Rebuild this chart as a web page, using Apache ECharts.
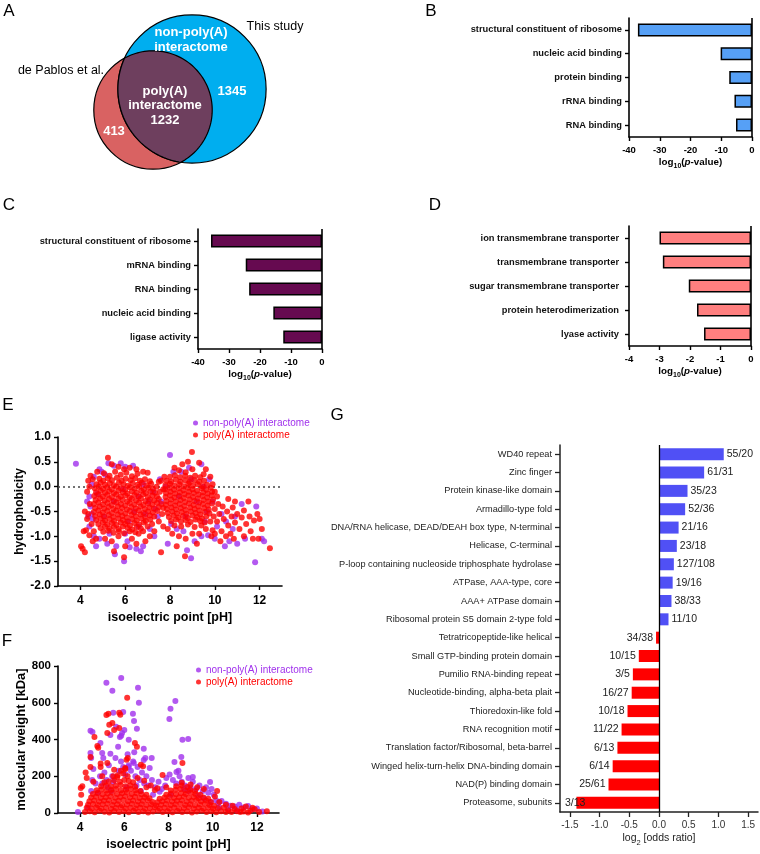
<!DOCTYPE html>
<html><head><meta charset="utf-8">
<script src="https://cdn.jsdelivr.net/npm/echarts@6/dist/echarts.min.js"></script>
<style>html,body{margin:0;padding:0;background:#fff}#c{width:760px;height:854px}</style>
</head><body><div id="c"></div>
<script>
// ---------- DATA ----------
// Panel A: Venn counts
const vennOnlyDePablos = 413;
const vennShared = 1232;
const vennOnlyThisStudy = 1345;

// Panel B: GO terms, non-poly(A) interactome
const goB_terms = ['structural constituent of ribosome','nucleic acid binding','protein binding','rRNA binding','RNA binding'];
const goB_vals = [-37.1,-10.2,-7.4,-5.7,-5.2];
// Panel C: GO terms, poly(A) interactome
const goC_terms = ['structural constituent of ribosome','mRNA binding','RNA binding','nucleic acid binding','ligase activity'];
const goC_vals = [-35.8,-24.6,-23.5,-15.7,-12.5];
// Panel D: GO terms, de Pablos only
const goD_terms = ['ion transmembrane transporter','transmembrane transporter','sugar transmembrane transporter','protein heterodimerization','lyase activity'];
const goD_vals = [-3.0,-2.89,-2.04,-1.77,-1.54];

// Panel G: InterPro domains
const pfamTerms = ['WD40 repeat','Zinc finger','Protein kinase-like domain','Armadillo-type fold','DNA/RNA helicase, DEAD/DEAH box type, N-terminal','Helicase, C-terminal','P-loop containing nucleoside triphosphate hydrolase','ATPase, AAA-type, core','AAA+ ATPase domain','Ribosomal protein S5 domain 2-type fold','Tetratricopeptide-like helical','Small GTP-binding protein domain','Pumilio RNA-binding repeat','Nucleotide-binding, alpha-beta plait','Thioredoxin-like fold','RNA recognition motif','Translation factor/Ribosomal, beta-barrel','Winged helix-turn-helix DNA-binding domain','NAD(P) binding domain','Proteasome, subunits'];
const pfamLog2OR = [1.09,0.76,0.48,0.44,0.33,0.30,0.25,0.23,0.21,0.16,-0.05,-0.34,-0.44,-0.46,-0.53,-0.63,-0.70,-0.78,-0.85,-1.39];
const pfamCounts = ['55/20','61/31','35/23','52/36','21/16','23/18','127/108','19/16','38/33','11/10','34/38','10/15','3/5','16/27','10/18','11/22','6/13','6/14','25/61','3/13'];

// Panel E: isoelectric point vs hydrophobicity
const E_nonPolyA = [[3.8,0.46],[8.0,0.64],[11.8,-1.52],[8.94,-1.44],[5.95,-1.5],[5.54,-1.36],[6.2,-1.22],[8.76,-1.28],[6.35,0.42],[5.8,0.47],[5.5,0.42],[5.25,0.47],[4.95,0.3],[5.1,0.24],[4.6,0.2],[4.5,0.05],[4.4,-0.2],[4.45,-0.4],[4.5,-0.55],[4.4,-0.8],[4.6,-1.0],[4.85,-1.05],[4.7,-1.2],[5.2,-1.15],[5.6,-1.2],[6.1,-1.1],[6.5,-1.25],[6.7,-1.3],[6.0,-0.95],[5.3,-0.95],[6.6,-0.8],[6.4,-0.5],[5.5,-0.3],[6.6,-0.2],[7.05,-0.3],[7.35,-0.45],[7.45,-0.6],[7.25,-0.1],[7.6,-0.3],[7.8,0.0],[8.15,0.3],[8.5,0.3],[8.4,-0.2],[8.7,-0.6],[9.2,-0.3],[9.5,0.0],[9.75,0.15],[9.9,-0.3],[10.1,-0.8],[10.3,-0.55],[10.5,-0.7],[10.65,-1.1],[11.0,-1.15],[11.35,-1.05],[11.85,-0.4],[12.1,-1.05],[12.2,-1.1],[10.45,-1.2],[9.7,-0.98],[9.4,-1.0],[8.6,-0.9],[8.3,-0.85],[7.9,-1.15],[9.4,0.45],[5.9,-0.05],[6.15,-0.7],[5.05,-0.6],[4.75,-0.15],[4.55,-0.65],[6.8,0.05],[6.9,-0.55],[8.95,0.15],[9.65,-0.5],[10.8,-0.85],[11.2,-0.35],[7.1,-0.85],[9.1,-1.1],[8.85,0.38],[4.3,-0.3],[4.35,-0.6],[6.8,-1.2],[7.3,-1.0],[8.05,-0.75],[9.55,-0.7],[10.0,-1.05],[10.9,-0.6],[7.55,0.15],[6.0,0.4],[4.85,0.35]];
const E_polyA = [
[5.05,0.27],[5.3,0.22],[5.55,0.3],[5.8,0.24],[6.05,0.28],[6.3,0.21],[6.55,0.26],
[4.85,0.16],[5.02,0.12],[5.22,0.17],[5.41,0.13],[5.63,0.18],[5.84,0.12],[6.02,0.16],[6.24,0.13],[6.45,0.17],[6.66,0.12],[6.88,0.15],[7.1,0.11],
[4.72,0.05],[4.9,0.08],[5.1,0.04],[5.31,0.07],[5.5,0.03],[5.72,0.08],[5.93,0.05],[6.12,0.02],[6.33,0.07],[6.55,0.04],[6.74,0.08],[6.95,0.03],[7.16,0.06],
[4.64,-0.03],[4.82,0.0],[5.01,-0.04],[5.2,-0.01],[5.4,-0.05],[5.6,0.0],[5.81,-0.03],[6.0,-0.06],[6.21,-0.01],[6.42,-0.04],[6.62,0.0],[6.83,-0.05],[7.04,-0.02],[7.24,-0.04],
[4.7,-0.11],[4.9,-0.08],[5.1,-0.12],[5.29,-0.09],[5.5,-0.13],[5.7,-0.08],[5.9,-0.11],[6.1,-0.14],[6.3,-0.09],[6.51,-0.12],[6.72,-0.08],[6.92,-0.13],[7.13,-0.1],[7.33,-0.12],
[4.62,-0.19],[4.81,-0.16],[5.0,-0.2],[5.2,-0.17],[5.41,-0.21],[5.6,-0.16],[5.8,-0.2],[6.01,-0.18],[6.2,-0.22],[6.41,-0.17],[6.6,-0.2],[6.8,-0.16],[7.01,-0.21],[7.22,-0.18],[7.42,-0.2],
[4.68,-0.27],[4.88,-0.24],[5.08,-0.28],[5.28,-0.25],[5.48,-0.29],[5.69,-0.24],[5.88,-0.27],[6.09,-0.3],[6.29,-0.25],[6.49,-0.28],[6.7,-0.24],[6.9,-0.29],[7.1,-0.26],[7.3,-0.28],[7.5,-0.25],
[4.6,-0.35],[4.8,-0.32],[5.01,-0.36],[5.21,-0.33],[5.4,-0.37],[5.61,-0.32],[5.81,-0.35],[6.0,-0.38],[6.2,-0.33],[6.41,-0.36],[6.62,-0.32],[6.81,-0.37],[7.02,-0.34],[7.21,-0.36],[7.42,-0.33],[7.62,-0.35],
[4.66,-0.43],[4.86,-0.4],[5.06,-0.44],[5.26,-0.41],[5.47,-0.45],[5.67,-0.4],[5.86,-0.43],[6.07,-0.46],[6.27,-0.41],[6.47,-0.44],[6.68,-0.4],[6.88,-0.45],[7.08,-0.42],[7.28,-0.44],[7.5,-0.41],[7.7,-0.43],
[4.6,-0.51],[4.8,-0.48],[5.0,-0.52],[5.2,-0.49],[5.41,-0.53],[5.6,-0.48],[5.8,-0.51],[6.01,-0.54],[6.21,-0.49],[6.41,-0.52],[6.61,-0.48],[6.82,-0.53],[7.02,-0.5],[7.23,-0.52],[7.44,-0.49],
[4.66,-0.59],[4.86,-0.56],[5.06,-0.6],[5.27,-0.57],[5.47,-0.61],[5.67,-0.56],[5.87,-0.59],[6.07,-0.62],[6.28,-0.57],[6.48,-0.6],[6.68,-0.56],[6.89,-0.61],[7.1,-0.58],[7.3,-0.6],
[4.7,-0.67],[4.9,-0.64],[5.1,-0.68],[5.3,-0.65],[5.5,-0.69],[5.7,-0.64],[5.9,-0.67],[6.1,-0.7],[6.31,-0.65],[6.51,-0.68],[6.72,-0.64],[6.92,-0.69],[7.12,-0.66],
[4.8,-0.75],[5.0,-0.72],[5.2,-0.76],[5.41,-0.73],[5.61,-0.77],[5.8,-0.72],[6.0,-0.75],[6.21,-0.78],[6.41,-0.73],[6.62,-0.76],[6.83,-0.72],
[4.9,-0.83],[5.1,-0.8],[5.3,-0.84],[5.5,-0.81],[5.71,-0.85],[5.9,-0.8],[6.11,-0.83],[6.31,-0.86],[6.52,-0.81],[6.7,-0.84],
[5.02,-0.91],[5.25,-0.89],[5.48,-0.93],[5.72,-0.9],[5.95,-0.94],[6.2,-0.9],[6.45,-0.92],
[8.4,0.33],[8.7,0.29],[9.0,0.35],[8.2,0.38],
[8.0,0.2],[8.22,0.23],[8.45,0.19],[8.68,0.22],[8.9,0.18],[9.12,0.22],[9.35,0.19],
[7.85,0.12],[8.05,0.1],[8.26,0.14],[8.47,0.1],[8.68,0.13],[8.88,0.09],[9.1,0.13],[9.31,0.1],[9.52,0.12],
[7.8,0.03],[8.0,0.06],[8.2,0.02],[8.41,0.05],[8.62,0.01],[8.82,0.06],[9.03,0.02],[9.24,0.05],[9.45,0.01],[9.65,0.04],
[7.78,-0.05],[7.98,-0.02],[8.18,-0.06],[8.39,-0.03],[8.6,-0.07],[8.8,-0.02],[9.0,-0.05],[9.21,-0.08],[9.42,-0.03],[9.62,-0.06],[9.82,-0.02],
[7.82,-0.13],[8.02,-0.1],[8.23,-0.14],[8.44,-0.11],[8.65,-0.15],[8.85,-0.1],[9.06,-0.13],[9.27,-0.16],[9.48,-0.11],[9.68,-0.14],[9.88,-0.1],
[7.8,-0.21],[8.0,-0.18],[8.2,-0.22],[8.41,-0.19],[8.62,-0.23],[8.82,-0.18],[9.03,-0.21],[9.24,-0.24],[9.45,-0.19],[9.66,-0.22],[9.86,-0.18],
[7.84,-0.29],[8.05,-0.26],[8.26,-0.3],[8.47,-0.27],[8.67,-0.31],[8.88,-0.26],[9.09,-0.29],[9.3,-0.32],[9.5,-0.27],[9.71,-0.3],[9.92,-0.26],
[7.82,-0.37],[8.02,-0.34],[8.23,-0.38],[8.43,-0.35],[8.64,-0.39],[8.85,-0.34],[9.05,-0.37],[9.26,-0.4],[9.47,-0.35],[9.68,-0.38],[9.88,-0.34],
[7.86,-0.45],[8.06,-0.42],[8.27,-0.46],[8.48,-0.43],[8.69,-0.47],[8.9,-0.42],[9.1,-0.45],[9.31,-0.48],[9.52,-0.43],[9.73,-0.46],
[7.9,-0.53],[8.1,-0.5],[8.31,-0.54],[8.52,-0.51],[8.73,-0.55],[8.93,-0.5],[9.14,-0.53],[9.35,-0.56],[9.56,-0.51],[9.76,-0.54],
[7.95,-0.61],[8.16,-0.58],[8.37,-0.62],[8.58,-0.59],[8.79,-0.63],[9.0,-0.58],[9.21,-0.61],[9.42,-0.64],[9.62,-0.6],
[8.05,-0.69],[8.27,-0.66],[8.49,-0.7],[8.7,-0.67],[8.92,-0.71],[9.14,-0.66],[9.35,-0.69],[9.55,-0.72],
[8.2,-0.78],[8.5,-0.8],[8.8,-0.76],[9.1,-0.81],[9.4,-0.78],
[10.0,-0.45],[10.2,-0.55],[10.1,-0.7],[10.35,-0.4],[10.4,-0.65],[10.55,-0.5],[10.6,-0.78],[10.75,-0.6],[10.8,-0.42],[10.9,-0.72],[11.0,-0.55],[11.1,-0.85],[11.2,-0.62],[11.3,-0.48],[11.4,-0.75],[11.55,-0.6],[11.6,-0.9],[11.75,-0.68],[11.9,-0.55],[10.3,-0.9],[10.5,-1.0],[10.7,-0.95],[10.25,-1.1],[10.0,-0.95],[9.9,-0.88],[10.85,-1.05],[11.3,-1.0],[11.7,-1.05],[11.5,-0.3],[10.6,-0.25],[10.1,-0.2],[12.1,-0.85],[12.0,-0.65],[11.95,-1.05],[12.46,-1.24],[10.9,-0.3],[9.95,-0.6],[10.15,-0.35],
[5.23,0.58],[5.4,0.45],[5.7,0.4],[5.95,0.35],[6.2,0.38],[4.75,0.3],[4.55,0.15],[4.4,0.0],[4.3,-0.1],[4.42,-0.35],[4.35,-0.55],[4.3,-0.65],[4.25,-0.88],[4.4,-0.98],[4.5,-0.75],[4.6,-0.9],[4.7,-1.05],[4.55,-1.1],[4.03,-1.2],[4.2,-1.32],[4.1,-1.25],[4.15,-0.9],[4.2,-0.5],[4.35,0.12],[4.45,0.22],[5.1,-1.05],[5.4,-1.1],[5.7,-1.0],[5.95,-1.42],[6.3,-1.05],[6.6,-0.95],[6.8,-0.9],[7.0,-0.8],[7.2,-0.75],[6.9,-1.1],[7.3,-0.9],[7.5,-0.7],[7.6,-1.32],[7.1,-1.0],[7.4,0.0],[7.5,0.1],[7.55,-0.1],[7.65,-0.55],[7.7,-0.05],[7.75,0.2],[7.6,0.12],[6.8,0.3],[6.5,0.35],[7.0,0.28],[8.55,0.45],[8.8,0.5],[9.3,0.48],[8.98,0.7],[9.6,0.35],[9.5,0.25],[9.8,0.2],[9.9,0.05],[10.0,-0.1],[8.67,-1.4],[8.4,-1.0],[8.1,-0.95],[8.7,-1.05],[9.0,-0.95],[9.3,-0.95],[9.6,-0.85],[7.9,-0.85],[9.8,-0.7],[7.7,-0.8],[8.3,-1.2],[9.2,-1.15],[5.5,-1.3],[6.0,-1.2],[6.5,-1.15],[9.85,-1.0]
];

// Panel F: isoelectric point vs molecular weight
const F_nonPolyA = [[4.47,447],[5.19,709],[5.46,665],[5.86,735],[6.62,681],[6.66,600],[6.39,540],[6.44,501],[6.57,458],[5.95,550],[6.0,452],[5.9,436],[5.8,414],[5.72,360],[5.5,545],[5.37,425],[4.47,327],[4.5,300],[5.0,327],[5.37,322],[6.88,349],[7.24,300],[8.04,512],[8.09,567],[8.31,610],[8.63,398],[8.89,403],[8.58,305],[8.27,278],[8.36,223],[9.1,196],[9.88,169],[6.2,398],[6.88,289],[6.43,272],[6.2,250],[5.63,469],[5.86,420],[4.92,381],[4.56,441],
[4.35,30],[4.5,120],[4.55,180],[4.6,240],[4.7,160],[4.9,200],[5.0,160],[5.1,220],[5.2,180],[5.3,260],[5.45,200],[5.5,170],[5.6,300],[5.75,230],[5.85,280],[5.95,250],[6.05,210],[6.2,260],[6.3,230],[6.4,280],[6.5,200],[6.6,250],[6.7,180],[6.8,220],[6.9,160],[7.0,200],[7.1,150],[7.25,180],[7.4,140],[7.55,170],[7.7,130],[7.85,150],[7.9,190],[8.05,210],[8.2,180],[8.35,160],[8.45,230],[8.5,200],[8.6,170],[8.75,150],[8.9,190],[9.0,140],[9.1,170],[9.25,130],[9.4,150],[9.55,120],[9.7,140],[9.8,110],[9.95,130],[10.05,100],[10.15,70],[10.25,55],[10.4,65],[10.6,50],[10.8,40],[11.0,35],[11.2,45],[11.4,30],[11.6,38],[11.8,20],[12.0,25],[12.25,8],[3.9,5],[10.7,20],[9.6,80],[9.9,60],[6.15,320],[5.05,300],[6.45,330],[6.95,300],[7.15,245],[6.1,140],[5.4,120],[8.1,100],[8.9,120],[7.3,100],[6.55,150],[7.6,115],[8.7,130],[9.35,95],[10.3,30],[11.1,15],[4.8,110],[5.25,140],[6.75,120]];
const F_polyA = [
[4.22,6],[4.44,10],[4.66,4],[4.88,12],[5.1,7],[5.32,3],[5.54,11],[5.76,5],[5.98,9],[6.2,4],[6.42,12],[6.64,6],[6.86,10],[7.08,3],[7.3,8],[7.52,12],[7.74,5],[7.96,9],[8.18,4],[8.4,11],[8.62,6],[8.84,10],[9.06,3],[9.28,8],[9.5,12],[9.72,5],[9.94,9],[10.16,4],[10.38,10],[10.6,6],
[4.3,28],[4.52,24],[4.74,30],[4.96,25],[5.18,29],[5.4,23],[5.62,27],[5.84,31],[6.06,24],[6.28,28],[6.5,25],[6.72,30],[6.94,23],[7.16,27],[7.38,31],[7.6,24],[7.82,28],[8.04,25],[8.26,30],[8.48,23],[8.7,27],[8.92,31],[9.14,24],[9.36,28],[9.58,25],[9.8,30],[10.02,23],[10.24,27],
[4.36,45],[4.58,49],[4.8,43],[5.02,47],[5.24,50],[5.46,44],[5.68,48],[5.9,42],[6.12,46],[6.34,50],[6.56,44],[6.78,48],[7.0,43],[7.22,47],[7.44,41],[7.66,45],[7.88,49],[8.1,43],[8.32,47],[8.54,50],[8.76,44],[8.98,48],[9.2,42],[9.42,46],[9.64,50],[9.86,44],[10.06,40],
[4.42,64],[4.64,68],[4.86,62],[5.08,66],[5.3,70],[5.52,63],[5.74,67],[5.96,71],[6.18,64],[6.4,68],[6.62,62],[6.84,66],[7.06,70],[7.28,60],[7.5,58],[7.72,64],[7.94,68],[8.16,62],[8.38,66],[8.6,70],[8.82,63],[9.04,67],[9.26,71],[9.48,64],[9.7,68],[9.92,60],
[4.5,84],[4.72,88],[4.94,82],[5.16,86],[5.38,90],[5.6,83],[5.82,87],[6.04,91],[6.26,84],[6.48,88],[6.7,82],[6.92,86],[7.14,80],[7.6,78],[7.82,84],[8.04,88],[8.26,82],[8.48,86],[8.7,90],[8.92,83],[9.14,87],[9.36,80],[9.58,85],[9.8,78],
[4.58,104],[4.8,108],[5.02,102],[5.24,106],[5.46,110],[5.68,103],[5.9,107],[6.12,111],[6.34,104],[6.56,108],[6.78,102],[7.0,100],[7.9,100],[8.12,106],[8.34,102],[8.56,108],[8.78,104],[9.0,110],[9.22,103],[9.44,100],
[4.75,124],[4.97,128],[5.19,122],[5.41,126],[5.63,130],[5.85,123],[6.07,127],[6.29,131],[6.51,124],[6.73,120],[8.1,122],[8.32,126],[8.54,130],[8.76,123],[8.98,127],[9.2,120],
[4.95,146],[5.17,150],[5.39,144],[5.61,148],[5.83,152],[6.05,145],[6.27,149],[6.49,143],[8.35,145],[8.6,150],[8.85,142],
[5.3,172],[5.55,178],[5.8,170],[6.0,180],[6.2,174],[6.4,168],[5.1,168],[8.6,165],
[5.7,205],[5.95,215],[6.05,240],[5.85,230],[6.15,200],[5.5,200],
[6.13,627],[5.19,534],[5.28,540],[5.77,545],[5.82,535],[5.46,490],[5.32,480],[5.54,452],[5.23,436],[4.78,365],[4.82,355],[4.65,414],[4.47,305],[4.47,250],[4.93,250],[4.93,270],[5.77,463],[6.48,381],[6.57,360],[6.75,262],[6.85,255],[6.1,290],[6.16,300],[5.23,272],[5.54,235],[6.04,245],[5.68,196],[8.63,272],[7.73,207],[4.03,136],[4.1,145],[4.05,100],[4.0,50],[7.38,125],[4.3,190],[4.25,220],[4.6,170],[5.0,200],[6.6,190],[6.9,175],[7.2,150],[7.5,135],[9.0,155],[9.3,140],[9.6,130],[10.1,90],[10.3,60],[10.2,120],[7.9,140],[7.0,140],
[10.5,30],[10.7,15],[10.9,40],[11.1,10],[11.3,25],[11.5,35],[11.7,12],[11.9,20],[12.1,5],[12.45,10],[10.6,45],[11.0,22],[11.4,8],[11.8,28],[10.85,5],[11.25,5],[11.6,3]
];

// ---------- STYLE / LAYOUT ----------
const FONT = 'Arial, "Liberation Sans", Helvetica, sans-serif';
const PURPLE = '#A030EC', RED = '#FF0000';
const DOT = 6;
const chart = echarts.init(document.getElementById('c'));

// Venn layout: centres (panel units), radius scaled from set size
const vennK = 1.46;
const vennSets = [
  {cx:153, cy:110, n:vennOnlyDePablos+vennShared, color:'#D96262'},
  {cx:192, cy:89, n:vennOnlyThisStudy+vennShared, color:'#00AEEF'}
];

function vennCircle(params, api) {
  const c = api.coord([api.value(0), api.value(1)]);
  const r = api.size([api.value(2), 0])[0];
  return {type:'circle', shape:{cx:c[0], cy:c[1], r:r},
    style:{fill: vennSets[params.dataIndex].color, stroke:'#000', lineWidth:1.2}};
}
function vennLens(params, api) {
  const a = vennSets[0], b = vennSets[1];
  const ca = api.coord([a.cx, a.cy]), cb = api.coord([b.cx, b.cy]);
  const ra = api.size([vennK*Math.sqrt(a.n),0])[0], rb = api.size([vennK*Math.sqrt(b.n),0])[0];
  const dx = cb[0]-ca[0], dy = cb[1]-ca[1], d = Math.sqrt(dx*dx+dy*dy);
  const th = Math.atan2(dy, dx);
  const aa = (d*d + ra*ra - rb*rb)/(2*d), bb = d - aa;
  const al1 = Math.acos(aa/ra), al2 = Math.acos(bb/rb);
  const pts = [];
  const N = 80;
  for (let i=0;i<=N;i++){ const t = th-al1 + 2*al1*i/N; pts.push([ca[0]+ra*Math.cos(t), ca[1]+ra*Math.sin(t)]); }
  const th2 = th + Math.PI;
  for (let i=0;i<=N;i++){ const t = th2-al2 + 2*al2*i/N; pts.push([cb[0]+rb*Math.cos(t), cb[1]+rb*Math.sin(t)]); }
  return {type:'polygon', shape:{points:pts}, style:{fill:'#6E3F5E', stroke:'#000', lineWidth:1.2}};
}

const axisLineBlack = {show:true, onZero:false, lineStyle:{color:'#000', width:1.6}};
const tickBlack = {show:true, length:4, lineStyle:{color:'#000', width:1.4}};
const subRich = {
  s:{fontSize:7, fontWeight:'bold', fontFamily:FONT, color:'#000', verticalAlign:'bottom', lineHeight:9, padding:[0,0,-3,0]},
  i:{fontSize:9.8, fontWeight:'bold', fontStyle:'italic', fontFamily:FONT, color:'#000'}
};

function goGrid(left, top, width, height) { return {left, top, width, height, containLabel:false}; }
function goXAxis(idx, min, interval) {
  return {gridIndex:idx, type:'value', min:min, max:0, interval:interval,
    axisLine:axisLineBlack, axisTick:tickBlack, splitLine:{show:false},
    axisLabel:{fontWeight:'bold', fontSize:9.5, color:'#000', margin:8, fontFamily:FONT},
    name:'log{s|10}({i|p}-value)', nameLocation:'middle', nameGap:20,
    nameTextStyle:{fontWeight:'bold', fontSize:9.8, color:'#000', fontFamily:FONT, rich:subRich}};
}
function goYAxis(idx, terms, margin) {
  return {gridIndex:idx, type:'category', inverse:true, data:terms,
    axisLine:axisLineBlack, axisTick:{show:true, alignWithLabel:true, length:4, lineStyle:{color:'#000', width:1.4}},
    axisLabel:{fontWeight:'bold', fontSize:9.3, color:'#111', margin:margin, fontFamily:FONT}, splitLine:{show:false}};
}
function zeroLine(width) {
  return {silent:true, symbol:'none', animation:false, label:{show:false},
    lineStyle:{color:'#000', width:width, type:'solid'}, data:[{xAxis:0}]};
}
function goBar(idx, vals, color) {
  return {type:'bar', xAxisIndex:idx, yAxisIndex:idx, data:vals, barWidth:13,
    itemStyle:{color:color, borderColor:'#000', borderWidth:1.5}, markLine:zeroLine(1.6), animation:false};
}

const gIdx = 6;
const gData = pfamLog2OR.map((v,i)=>({
  value:v,
  itemStyle:{color: v>=0 ? '#5050F5' : RED},
  label:{show:true, position: v>=0 ? 'right':'left', distance:3,
    offset: (i===pfamLog2OR.length-1) ? [12,0] : [0,0],
    formatter: pfamCounts[i], fontSize:10.5, color:'#222', fontFamily:FONT}
}));

function txt(x, y, text, font, fill, align) {
  return {type:'text', x:x, y:y, z:100, zlevel:0, silent:true,
    style:{text:text, font:font, fill:fill||'#000', align:align||'center', verticalAlign:'middle',
      textAlign:align||'center', textVerticalAlign:'middle'}};
}

const option = {
  animation:false,
  textStyle:{fontFamily:FONT},
  grid:[
    {left:0, top:0, width:380, height:200},
    goGrid(629, 18, 123, 119),
    goGrid(198, 229, 124, 120),
    goGrid(629, 226, 122, 120),
    {left:58, top:437, width:224, height:149},
    {left:58, top:666, width:221, height:147},
    {left:560, top:445, width:198, height:367}
  ],
  xAxis:[
    {gridIndex:0, type:'value', min:0, max:380, show:false},
    goXAxis(1, -40, 10),
    goXAxis(2, -40, 10),
    goXAxis(3, -4, 1),
    {gridIndex:4, type:'value', min:3, max:13, axisLine:axisLineBlack, splitLine:{show:false},
      axisTick:Object.assign({customValues:[4,6,8,10,12]}, tickBlack),
      axisLabel:{customValues:[4,6,8,10,12], fontWeight:'bold', fontSize:12, color:'#000', margin:9, fontFamily:FONT},
      name:'isoelectric point [pH]', nameLocation:'middle', nameGap:25,
      nameTextStyle:{fontWeight:'bold', fontSize:12.5, color:'#000', fontFamily:FONT}},
    {gridIndex:5, type:'value', min:3, max:13, axisLine:axisLineBlack, splitLine:{show:false},
      axisTick:Object.assign({customValues:[4,6,8,10,12]}, tickBlack),
      axisLabel:{customValues:[4,6,8,10,12], fontWeight:'bold', fontSize:12, color:'#000', margin:9, fontFamily:FONT},
      name:'isoelectric point [pH]', nameLocation:'middle', nameGap:25,
      nameTextStyle:{fontWeight:'bold', fontSize:12.5, color:'#000', fontFamily:FONT}},
    {gridIndex:6, type:'value', min:-5/3, max:5/3, splitLine:{show:false},
      axisLine:{show:true, onZero:false, lineStyle:{color:'#222', width:1.5}},
      axisTick:{show:true, length:5, customValues:[-1.5,-1,-0.5,0,0.5,1,1.5], lineStyle:{color:'#222', width:1.3}},
      axisLabel:{customValues:[-1.5,-1,-0.5,0,0.5,1,1.5], formatter:(v)=>v.toFixed(1), fontSize:10, color:'#333', margin:8, fontFamily:FONT},
      name:'log{s|2} [odds ratio]', nameLocation:'middle', nameGap:21,
      nameTextStyle:{fontSize:10.5, color:'#222', fontFamily:FONT,
        rich:{s:{fontSize:7.5, color:'#222', fontFamily:FONT, verticalAlign:'bottom', lineHeight:9, padding:[0,0,-3,0]}}}}
  ],
  yAxis:[
    {gridIndex:0, type:'value', min:0, max:200, inverse:true, show:false},
    goYAxis(1, goB_terms, 7),
    goYAxis(2, goC_terms, 7),
    goYAxis(3, goD_terms, 10),
    {gridIndex:4, type:'value', min:-2, max:1, interval:0.5, axisLine:axisLineBlack, axisTick:tickBlack, splitLine:{show:false},
      axisLabel:{fontWeight:'bold', fontSize:12, color:'#000', margin:7, fontFamily:FONT, formatter:(v)=>v.toFixed(1)},
      name:'hydrophobicity', nameLocation:'middle', nameGap:32, nameRotate:90,
      nameTextStyle:{fontWeight:'bold', fontSize:12, color:'#000', fontFamily:FONT}},
    {gridIndex:5, type:'value', min:0, max:800, interval:200, axisLine:axisLineBlack, axisTick:tickBlack, splitLine:{show:false},
      axisLabel:{fontWeight:'bold', fontSize:11.5, color:'#000', margin:7, fontFamily:FONT},
      name:'molecular weight [kDa]', nameLocation:'middle', nameGap:29, nameRotate:90,
      nameTextStyle:{fontWeight:'bold', fontSize:13, color:'#000', fontFamily:FONT}},
    {gridIndex:6, type:'category', inverse:true, data:pfamTerms,
      axisLine:{show:true, onZero:false, lineStyle:{color:'#222', width:1.5}},
      axisTick:{show:true, alignWithLabel:true, length:5, lineStyle:{color:'#222', width:1.3}},
      axisLabel:{fontSize:9.2, color:'#222', margin:8, fontFamily:FONT}, splitLine:{show:false}}
  ],
  legend:[
    {left:193, top:417, orient:'vertical', padding:0, itemGap:0, itemWidth:5, itemHeight:5, icon:'circle', selectedMode:false,
      textStyle:{fontSize:10, lineHeight:12, fontFamily:FONT},
      data:[{name:'non-poly(A) interactome', textStyle:{color:PURPLE}}, {name:'poly(A) interactome', textStyle:{color:RED}}]},
    {left:196, top:664, orient:'vertical', padding:0, itemGap:0, itemWidth:5, itemHeight:5, icon:'circle', selectedMode:false,
      textStyle:{fontSize:10, lineHeight:12, fontFamily:FONT},
      data:[{name:'non-poly(A) interactome', textStyle:{color:PURPLE}}, {name:'poly(A) interactome', textStyle:{color:RED}}]}
  ],
  series:[
    {type:'custom', xAxisIndex:0, yAxisIndex:0, renderItem:vennCircle, silent:true, z:1,
      data: vennSets.map(s=>[s.cx, s.cy, vennK*Math.sqrt(s.n)])},
    {type:'custom', xAxisIndex:0, yAxisIndex:0, renderItem:vennLens, silent:true, data:[[0,0]], z:2},
    goBar(1, goB_vals, '#56A0F6'),
    goBar(2, goC_vals, '#660A50'),
    goBar(3, goD_vals, '#FF7F7F'),
    {type:'scatter', name:'non-poly(A) interactome', xAxisIndex:4, yAxisIndex:4, data:E_nonPolyA, symbolSize:DOT,
      itemStyle:{color:PURPLE}, silent:true,
      markLine:{silent:true, symbol:'none', z:1, label:{show:false}, lineStyle:{color:'#444', width:1.5, type:[2,3]}, data:[{yAxis:0}]}},
    {type:'scatter', name:'poly(A) interactome', xAxisIndex:4, yAxisIndex:4, data:E_polyA, symbolSize:DOT, itemStyle:{color:RED}, silent:true},
    {type:'scatter', name:'non-poly(A) interactome', xAxisIndex:5, yAxisIndex:5, data:F_nonPolyA, symbolSize:DOT, itemStyle:{color:PURPLE}, silent:true},
    {type:'scatter', name:'poly(A) interactome', xAxisIndex:5, yAxisIndex:5, data:F_polyA, symbolSize:DOT, itemStyle:{color:RED}, silent:true},
    {type:'bar', xAxisIndex:gIdx, yAxisIndex:gIdx, data:gData, barWidth:12, markLine:zeroLine(1.3)}
  ],
  graphic:{elements:[
    txt(9, 11, 'A', '17px '+FONT, '#000'),
    txt(431, 11, 'B', '17px '+FONT, '#000'),
    txt(9, 205, 'C', '17px '+FONT, '#000'),
    txt(435, 205, 'D', '17px '+FONT, '#000'),
    txt(8, 405, 'E', '17px '+FONT, '#000'),
    txt(7, 641, 'F', '17px '+FONT, '#000'),
    txt(337, 415, 'G', '17px '+FONT, '#000'),
    txt(191, 32, 'non-poly(A)', 'bold 13px '+FONT, '#fff'),
    txt(191, 47, 'interactome', 'bold 13px '+FONT, '#fff'),
    txt(275, 27, 'This study', '12.5px '+FONT, '#000'),
    txt(61, 71, 'de Pablos et al.', '12.5px '+FONT, '#000'),
    txt(165, 91, 'poly(A)', 'bold 13px '+FONT, '#fff'),
    txt(165, 105, 'interactome', 'bold 13px '+FONT, '#fff'),
    txt(165, 120, String(vennShared), 'bold 13px '+FONT, '#fff'),
    txt(232, 91, String(vennOnlyThisStudy), 'bold 13px '+FONT, '#fff'),
    txt(114, 131, String(vennOnlyDePablos), 'bold 13px '+FONT, '#fff')
  ]}
};
chart.setOption(option);
</script></body></html>
